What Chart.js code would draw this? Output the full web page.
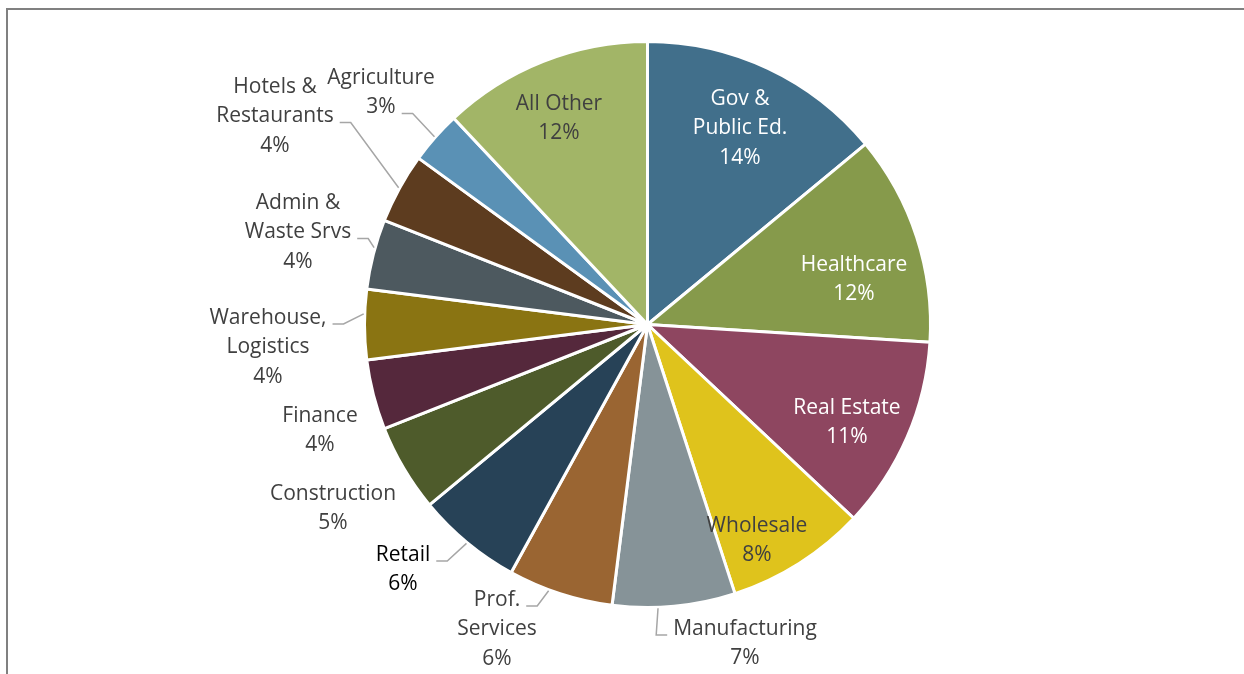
<!DOCTYPE html>
<html>
<head>
<meta charset="utf-8">
<title>Employment by Industry</title>
<script src="https://cdn.jsdelivr.net/npm/chart.js@4/dist/chart.umd.min.js"></script>
<style>
  html, body {
    margin: 0;
    padding: 0;
    background: #ffffff;
    overflow: hidden;
  }
  .frame {
    position: absolute;
    left: 6px;
    top: 8px;
    width: 1300px;
    height: 760px;
    border: 2px solid #808080;
  }
  .chart-wrap {
    position: absolute;
    left: 0;
    top: 0;
    width: 1244px;
    height: 674px;
  }
</style>
</head>
<body>
<div class="frame"></div>
<div class="chart-wrap"><canvas id="industryPie"></canvas></div>
<script>
(function () {
  "use strict";

  // industries, clockwise from 12 o'clock
  var industries = [
    "Gov & Public Ed.",
    "Healthcare",
    "Real Estate",
    "Wholesale",
    "Manufacturing",
    "Prof. Services",
    "Retail",
    "Construction",
    "Finance",
    "Warehouse, Logistics",
    "Admin & Waste Srvs",
    "Hotels & Restaurants",
    "Agriculture",
    "All Other"
  ];

  // share of total, percent
  var shares = [14, 12, 11, 8, 7, 6, 6, 5, 4, 4, 4, 4, 3, 12];

  // how each name is broken over lines in its label
  var labelLines = [
    ["Gov &", "Public Ed."],
    ["Healthcare"],
    ["Real Estate"],
    ["Wholesale"],
    ["Manufacturing"],
    ["Prof.", "Services"],
    ["Retail"],
    ["Construction"],
    ["Finance"],
    ["Warehouse,", "Logistics"],
    ["Admin &", "Waste Srvs"],
    ["Hotels &", "Restaurants"],
    ["Agriculture"],
    ["All Other"]
  ];

  var sliceColors = [
    "#416F8B", "#869A4B", "#8E4660", "#DFC31C", "#869398",
    "#9A6532", "#274257", "#4E5B2B", "#55283C", "#8A7412",
    "#4D595F", "#5D3C1F", "#5A91B5", "#A2B567"
  ];

  var labelColors = [
    "#FFFFFF", "#FFFFFF", "#FFFFFF", "#404040", "#404040",
    "#404040", "#000000", "#404040", "#404040", "#404040",
    "#404040", "#404040", "#404040", "#404040"
  ];

  // first-line centre of each label, in px from the pie centre
  var labelOffsets = [
    [92.5, -225.5], [206.5, -59.5], [199.5, 83.5], [109.5, 201.5],
    [97.5, 304.5], [-150.5, 275.5], [-244.5, 230.5], [-314.5, 169.5],
    [-327.5, 91.5], [-379.5, -6.5], [-349.5, -121.5], [-372.5, -237.5],
    [-266.5, -246.5], [-88.5, -220.5]
  ];

  // leader lines: which text line they hang off, which side, where on the slice
  var leaders = [
    null, null, null, null,
    { line: 0, side: "left", at: 0.63 },
    { line: 0, side: "right", at: 0.61 },
    { line: 0, side: "right", at: 0.5 },
    null, null,
    { line: 0, side: "right", at: 0.65 },
    { line: 1, side: "right", at: 0.59 },
    { line: 1, side: "right", at: 0.5 },
    { line: 1, side: "right", at: 0.5 },
    null
  ];

  var FONT = "21px 'Open Sans', sans-serif";
  var LINE_HEIGHT = 29.5;

  var pieLabels = {
    id: "pieLabels",
    afterDatasetsDraw: function (chart) {
      var ctx = chart.ctx;
      var arcs = chart.getDatasetMeta(0).data;
      ctx.save();
      ctx.font = FONT;
      ctx.textAlign = "center";
      ctx.textBaseline = "middle";

      arcs.forEach(function (arc, i) {
        var p = arc.getProps(["x", "y", "startAngle", "endAngle", "outerRadius"], true);
        var lines = labelLines[i].concat([shares[i] + "%"]);
        var tx = p.x + labelOffsets[i][0];
        var ty = p.y + labelOffsets[i][1];

        ctx.fillStyle = labelColors[i];
        lines.forEach(function (line, k) {
          ctx.fillText(line, tx, ty + k * LINE_HEIGHT);
        });

        var leader = leaders[i];
        if (!leader) return;

        var w = ctx.measureText(lines[leader.line]).width;
        var dir = leader.side === "right" ? 1 : -1;
        var ly = ty + leader.line * LINE_HEIGHT + 6;
        var x0 = tx + dir * (w / 2 + 6);
        var x1 = x0 + dir * 11;
        var a = p.startAngle + (p.endAngle - p.startAngle) * leader.at;
        var r = p.outerRadius + 1;

        ctx.beginPath();
        ctx.moveTo(x0, ly);
        ctx.lineTo(x1, ly);
        ctx.lineTo(p.x + Math.cos(a) * r, p.y + Math.sin(a) * r);
        ctx.strokeStyle = "#A6A6A6";
        ctx.lineWidth = 1.5;
        ctx.stroke();
      });

      ctx.restore();
    }
  };

  function initPie() {
    var canvas = document.getElementById("industryPie");
    if (!canvas) return;

    new Chart(canvas.getContext("2d"), {
      type: "pie",
      data: {
        labels: industries,
        datasets: [
          {
            data: shares,
            backgroundColor: sliceColors,
            borderColor: "#FFFFFF",
            borderWidth: 3
          }
        ]
      },
      options: {
        responsive: true,
        maintainAspectRatio: false,
        animation: false,
        radius: 283,
        layout: {
          padding: { left: 51, right: 0, top: 0, bottom: 25 }
        },
        plugins: {
          legend: { display: false },
          tooltip: { enabled: false }
        }
      },
      plugins: [pieLabels]
    });
  }

  document.addEventListener("DOMContentLoaded", function () {
    initPie();
  });
})();
</script>
</body>
</html>
